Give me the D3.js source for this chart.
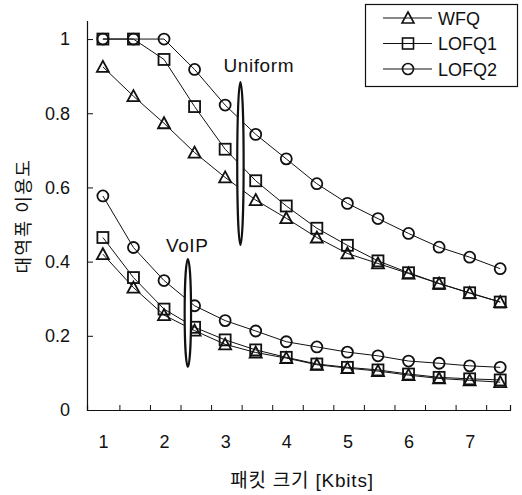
<!DOCTYPE html>
<html>
<head>
<meta charset="utf-8">
<script src="https://cdn.jsdelivr.net/npm/d3@7"></script>
<style>
  body { margin: 0; background: #fff; }
  text { font-family: "Liberation Sans", Arial, "Noto Sans CJK KR", sans-serif; fill: #111; }
  .axis path, .axis line { stroke: #111; }
</style>
</head>
<body>
<div id="chart"></div>
<script>
// packet size [Kbits]
const packetSize = [1, 1.5, 2, 2.5, 3, 3.5, 4, 4.5, 5, 5.5, 6, 6.5, 7, 7.5];

// Uniform traffic
const uniWFQ   = [0.925, 0.846, 0.773, 0.694, 0.627, 0.566, 0.517, 0.465, 0.422, 0.395, 0.368, 0.341, 0.315, 0.291];
const uniLOFQ1 = [1.0, 1.0, 0.945, 0.818, 0.703, 0.618, 0.550, 0.490, 0.444, 0.402, 0.370, 0.341, 0.316, 0.291];
const uniLOFQ2 = [1.0, 1.0, 1.0, 0.918, 0.822, 0.743, 0.677, 0.610, 0.557, 0.516, 0.476, 0.439, 0.412, 0.381];

// VoIP traffic
const voipWFQ   = [0.420, 0.330, 0.256, 0.214, 0.177, 0.155, 0.140, 0.122, 0.113, 0.105, 0.094, 0.085, 0.080, 0.075];
const voipLOFQ1 = [0.465, 0.357, 0.272, 0.223, 0.189, 0.162, 0.142, 0.124, 0.115, 0.108, 0.097, 0.088, 0.084, 0.081];
const voipLOFQ2 = [0.577, 0.438, 0.349, 0.281, 0.241, 0.213, 0.184, 0.170, 0.156, 0.146, 0.132, 0.126, 0.119, 0.115];

const xLabelTicks = [1, 2, 3, 4, 5, 6, 7];
const xMarkTicks = [1.27, 1.77, 2.27, 2.77, 3.27, 3.77, 4.27, 4.77, 5.27, 5.77, 6.27, 6.77, 7.27];
const yTicks = [0, 0.2, 0.4, 0.6, 0.8, 1];

const legendNames = ["WFQ", "LOFQ1", "LOFQ2"];
const markerKinds = ["triangle", "square", "circle"];

// group annotations
const groups = [
  {label: "Uniform", x: 3.25, yTop: 0.884, yBottom: 0.445, tx: 3.55, ty: 0.91},
  {label: "VoIP",    x: 2.39, yTop: 0.407, yBottom: 0.116, tx: 2.38, ty: 0.427}
];

const width = 522, height = 495;
const svg = d3.select("#chart").append("svg")
  .attr("width", width)
  .attr("height", height);

const xScale = d3.scaleLinear().domain([0.74, 7.66]).range([87, 510]);
const yScale = d3.scaleLinear().domain([0, 1.05]).range([410, 20.5]);

// x axis: tick marks (inward) and labels
svg.append("g")
  .attr("class", "axis")
  .attr("transform", "translate(0,410)")
  .call(d3.axisBottom(xScale).tickValues(xMarkTicks).tickSizeInner(-5).tickSizeOuter(-5).tickFormat(""))
  .call(g => g.select(".domain").attr("stroke-width", 1.2));

svg.append("g")
  .attr("transform", "translate(0,410)")
  .call(d3.axisBottom(xScale).tickValues(xLabelTicks).tickSize(0).tickPadding(25).tickFormat(d3.format("")))
  .call(g => g.select(".domain").remove())
  .call(g => g.selectAll("text").attr("font-size", 18));

// y axis
svg.append("g")
  .attr("class", "axis")
  .attr("transform", "translate(87,0)")
  .call(d3.axisLeft(yScale).tickValues(yTicks).tickSizeInner(-6).tickSizeOuter(0).tickPadding(17)
    .tickFormat(d3.format("")))
  .call(g => g.select(".domain").attr("stroke-width", 1.2))
  .call(g => g.selectAll("text").attr("font-size", 18));

// axis titles
svg.append("text")
  .attr("x", 302).attr("y", 487)
  .attr("text-anchor", "middle")
  .attr("font-size", 19)
  .attr("letter-spacing", 0.8)
  .text("패킷 크기 [Kbits]");

svg.append("text")
  .attr("transform", "translate(30,216) rotate(-90)")
  .attr("text-anchor", "middle")
  .attr("font-size", 18)
  .attr("letter-spacing", 1.5)
  .text("대역폭 이용도");

// markers
function drawMarker(g, kind, cx, cy) {
  if (kind === "circle") {
    g.append("circle").attr("cx", cx).attr("cy", cy).attr("r", 5.5);
  } else if (kind === "square") {
    g.append("rect").attr("x", cx - 5.5).attr("y", cy - 5.5).attr("width", 11).attr("height", 11);
  } else {
    g.append("path").attr("d", `M${cx},${cy - 6}L${cx + 6},${cy + 5}L${cx - 6},${cy + 5}Z`);
  }
}

const line = d3.line()
  .x((d, i) => xScale(packetSize[i]))
  .y(d => yScale(d));

const series = [
  {values: uniWFQ, kind: "triangle"},
  {values: uniLOFQ1, kind: "square"},
  {values: uniLOFQ2, kind: "circle"},
  {values: voipWFQ, kind: "triangle"},
  {values: voipLOFQ1, kind: "square"},
  {values: voipLOFQ2, kind: "circle"}
];

series.forEach(s => {
  svg.append("path")
    .datum(s.values)
    .attr("fill", "none")
    .attr("stroke", "#111")
    .attr("stroke-width", 1)
    .attr("d", line);
  const mg = svg.append("g").attr("fill", "none").attr("stroke", "#111").attr("stroke-width", 1.8);
  s.values.forEach((v, i) => drawMarker(mg, s.kind, xScale(packetSize[i]), yScale(v)));
});

// group annotations (thin ellipses with labels)
groups.forEach(gr => {
  const top = yScale(gr.yTop), bot = yScale(gr.yBottom);
  svg.append("ellipse")
    .attr("cx", xScale(gr.x))
    .attr("cy", (top + bot) / 2)
    .attr("rx", 3.2)
    .attr("ry", (bot - top) / 2)
    .attr("fill", "#fff")
    .attr("stroke", "#111")
    .attr("stroke-width", 2.2);
  svg.append("text")
    .attr("x", xScale(gr.tx))
    .attr("y", yScale(gr.ty))
    .attr("text-anchor", "middle")
    .attr("font-size", 19)
    .attr("letter-spacing", 0.6)
    .text(gr.label);
});

// legend
const legend = svg.append("g");
legend.append("rect")
  .attr("x", 365.5).attr("y", 4.5)
  .attr("width", 152).attr("height", 82)
  .attr("fill", "#fff")
  .attr("stroke", "#111")
  .attr("stroke-width", 1.2);

legendNames.forEach((name, i) => {
  const y = 18 + i * 25.5;
  legend.append("line")
    .attr("x1", 383).attr("x2", 432)
    .attr("y1", y).attr("y2", y)
    .attr("stroke", "#111").attr("stroke-width", 1);
  const mg = legend.append("g").attr("fill", "none").attr("stroke", "#111").attr("stroke-width", 1.6);
  drawMarker(mg, markerKinds[i], 408, y);
  legend.append("text")
    .attr("x", 438).attr("y", y + 6.5)
    .attr("font-size", 18)
    .text(name);
});
</script>
</body>
</html>
